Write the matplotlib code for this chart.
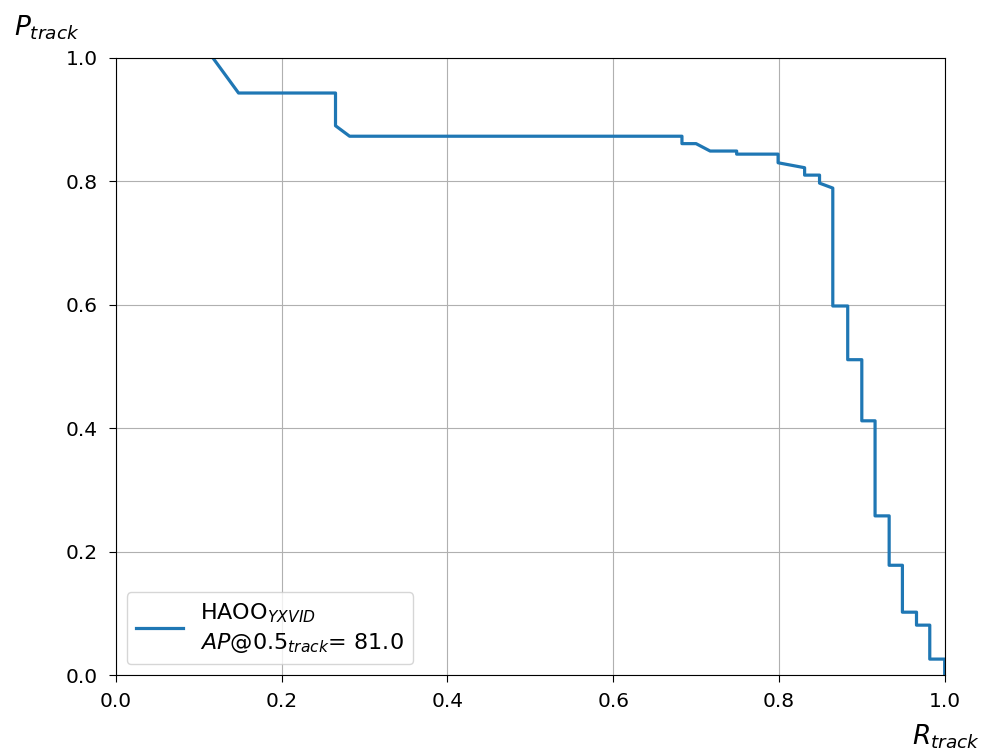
import matplotlib
matplotlib.use("Agg")
import matplotlib.pyplot as plt

# precision / recall points
recall = [0.117, 0.148, 0.265, 0.265, 0.282, 0.683, 0.683, 0.700, 0.717, 0.749,
          0.749, 0.799, 0.799, 0.831, 0.831, 0.849, 0.849, 0.865, 0.865, 0.883,
          0.883, 0.900, 0.900, 0.916, 0.916, 0.933, 0.933, 0.949, 0.949, 0.966,
          0.966, 0.982, 0.982, 1.0, 1.0]
precision = [1.0, 0.943, 0.943, 0.890, 0.873, 0.873, 0.861, 0.861, 0.849, 0.849,
             0.844, 0.844, 0.830, 0.822, 0.810, 0.810, 0.797, 0.789, 0.598, 0.598,
             0.511, 0.511, 0.412, 0.412, 0.258, 0.258, 0.178, 0.178, 0.102, 0.102,
             0.081, 0.081, 0.026, 0.026, 0.0]
ticks = [0, 0.2, 0.4, 0.6, 0.8, 1.0]
label = "HAOO$_{YXVID}$\n$AP$@0.5$_{track}$= 81.0"

fig = plt.figure(figsize=(9.82, 7.51), dpi=100)
ax = fig.add_axes([0.118, 0.101, 0.844, 0.822])
ax.plot(recall, precision, color="tab:blue", lw=2.3, label=label)
ax.set_xlim(0, 1)
ax.set_ylim(0, 1)
ax.set_xticks(ticks)
ax.set_yticks(ticks)
ax.tick_params(labelsize=14.5, length=5)
ax.tick_params(axis="y", pad=8)
ax.tick_params(axis="x", pad=7)
ax.grid(True)
leg = ax.legend(loc="lower left", fontsize=16, handlelength=2.1)
leg.get_texts()[0].set_linespacing(1.35)

fig.text(0.014, 0.953, "$P_{track}$", fontsize=19, ha="left", va="baseline")
fig.text(0.998, 0.008, "$R_{track}$", fontsize=19, ha="right", va="baseline")

fig.savefig("out.png", dpi=100)
